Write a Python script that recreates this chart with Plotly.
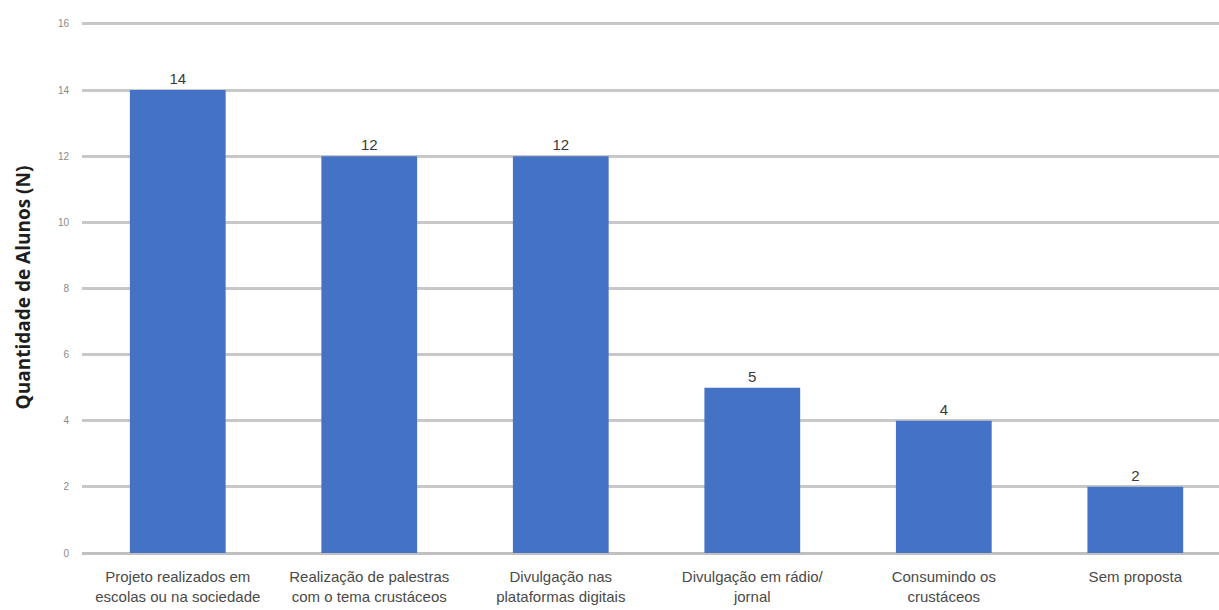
import plotly.graph_objects as go

categories = [
    "Projeto realizados em<br>escolas ou na sociedade",
    "Realização de palestras<br>com o tema crustáceos",
    "Divulgação nas<br>plataformas digitais",
    "Divulgação em rádio/<br>jornal",
    "Consumindo os<br>crustáceos",
    "Sem proposta",
]
alunos = [14, 12, 12, 5, 4, 2]
y_ticks = [0, 2, 4, 6, 8, 10, 12, 14, 16]

fig = go.Figure(
    go.Bar(
        x=categories,
        y=alunos,
        marker=dict(color="#4472C4", line=dict(width=0)),
        text=[str(v) for v in alunos],
        textposition="outside",
        cliponaxis=False,
        textfont=dict(family="Liberation Sans", size=15, color="#3a3a3a"),
    )
)

fig.update_layout(
    width=1219,
    height=610,
    margin=dict(l=82, r=0, t=22, b=57),
    paper_bgcolor="white",
    plot_bgcolor="white",
    bargap=0.5,
    showlegend=False,
    font=dict(family="Liberation Sans"),
)

fig.update_xaxes(
    range=[-0.5, 5.437],
    showgrid=False,
    showline=False,
    ticks="",
    tickfont=dict(family="Liberation Sans", size=15, color="#4a4a4a"),
    ticklabelstandoff=13,
)

fig.update_yaxes(
    range=[0, 16.06],
    tickvals=y_ticks,
    showgrid=True,
    gridcolor="#c8c8c8",
    gridwidth=3,
    zeroline=True,
    zerolinecolor="#c0c0c0",
    zerolinewidth=3,
    showline=False,
    ticks="",
    ticklabelstandoff=12,
    tickfont=dict(family="Liberation Sans", size=10, color="#8a8a8a"),
    title=dict(
        text="<b>Quantidade de Alunos (N)</b>",
        font=dict(family="Open Sans", size=19, color="#1e1e1e"),
        standoff=22,
    ),
)

fig.write_html("out.html")
